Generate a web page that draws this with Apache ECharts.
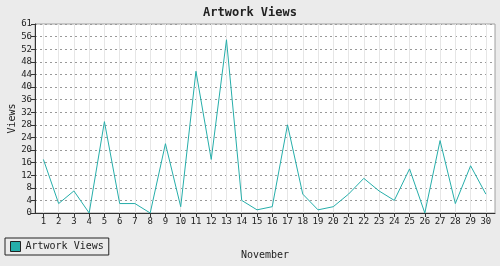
<!DOCTYPE html>
<html>
<head>
<meta charset="utf-8">
<script src="https://cdn.jsdelivr.net/npm/echarts@6/dist/echarts.min.js"></script>
<style>
html,body{margin:0;padding:0;background:#ebebeb;}
#chart{width:500px;height:266px;}
</style>
</head>
<body>
<div id="chart"></div>
<script>
var days = [1,2,3,4,5,6,7,8,9,10,11,12,13,14,15,16,17,18,19,20,21,22,23,24,25,26,27,28,29,30];
var views = [17,3,7,0,29,3,3,0,22,2,45,17,55,4,1,2,28,6,1,2,6,11,7,4,14,0,23,3,15,6];
var yTicks = [0,4,8,12,16,20,24,28,32,36,40,44,48,52,56,60];
var seriesName = 'Artwork Views';
var titleText = 'Artwork Views';
var xName = 'November';
var yName = 'Views';
var topLabel = '61';

var mono = 'DejaVu Sans Mono';
var chart = echarts.init(document.getElementById('chart'), null, {renderer:'canvas'});
var pts = days.map(function(d,i){return [d, views[i]];});
chart.setOption({
  backgroundColor:'#ebebeb',
  animation:false,
  title:{text:titleText,left:'center',top:2,textStyle:{fontFamily:mono,fontSize:12,fontWeight:'bold',color:'#222'}},
  legend:{
    left:5, top:238, orient:'horizontal',
    padding:[3,5], itemWidth:10, itemHeight:10, itemGap:5,
    borderColor:'#222', borderWidth:1,
    icon:'rect',
    itemStyle:{borderColor:'#222',borderWidth:1},
    textStyle:{fontFamily:mono,fontSize:10,color:'#222',padding:[0,0,0,0]},
    data:[seriesName]
  },
  grid:{left:35,right:5,top:24,bottom:53,show:true,backgroundColor:'#fff',borderColor:'#a0a0a0',borderWidth:1,containLabel:false,outerBoundsMode:'none'},
  xAxis:{
    type:'value', min:0.45, max:30.6,
    name:xName, nameLocation:'middle', nameGap:37, nameMoveOverlap:false,
    nameTextStyle:{fontFamily:mono,fontSize:10,color:'#222'},
    axisLine:{show:true,onZero:false,lineStyle:{color:'#333',width:1}},
    axisTick:{show:true,length:4,customValues:days,lineStyle:{color:'#333'}},
    axisLabel:{customValues:days,fontFamily:mono,fontSize:9,color:'#222',margin:4},
    splitLine:{show:true,lineStyle:{color:'#e6e6e6',width:1,type:'solid'}}
  },
  yAxis:{
    type:'value', min:0, max:60, interval:4,
    name:yName, nameLocation:'middle', nameGap:18, nameRotate:90, nameMoveOverlap:false,
    nameTextStyle:{fontFamily:mono,fontSize:10,color:'#222'},
    axisLine:{show:true,lineStyle:{color:'#333',width:1}},
    axisTick:{show:true,length:4,lineStyle:{color:'#333'}},
    axisLabel:{fontFamily:mono,fontSize:9,color:'#222',margin:3,
      formatter:function(v){return v===60?topLabel:String(v);}},
    splitLine:{show:true,lineStyle:{color:'#999',width:1,type:[2,3]}}
  },
  series:[{
    name:seriesName, type:'line', data:pts, symbol:'none',
    itemStyle:{color:'#26aeaa'},
    lineStyle:{color:'#26aeaa',width:1}
  }]
});
</script>
</body>
</html>
